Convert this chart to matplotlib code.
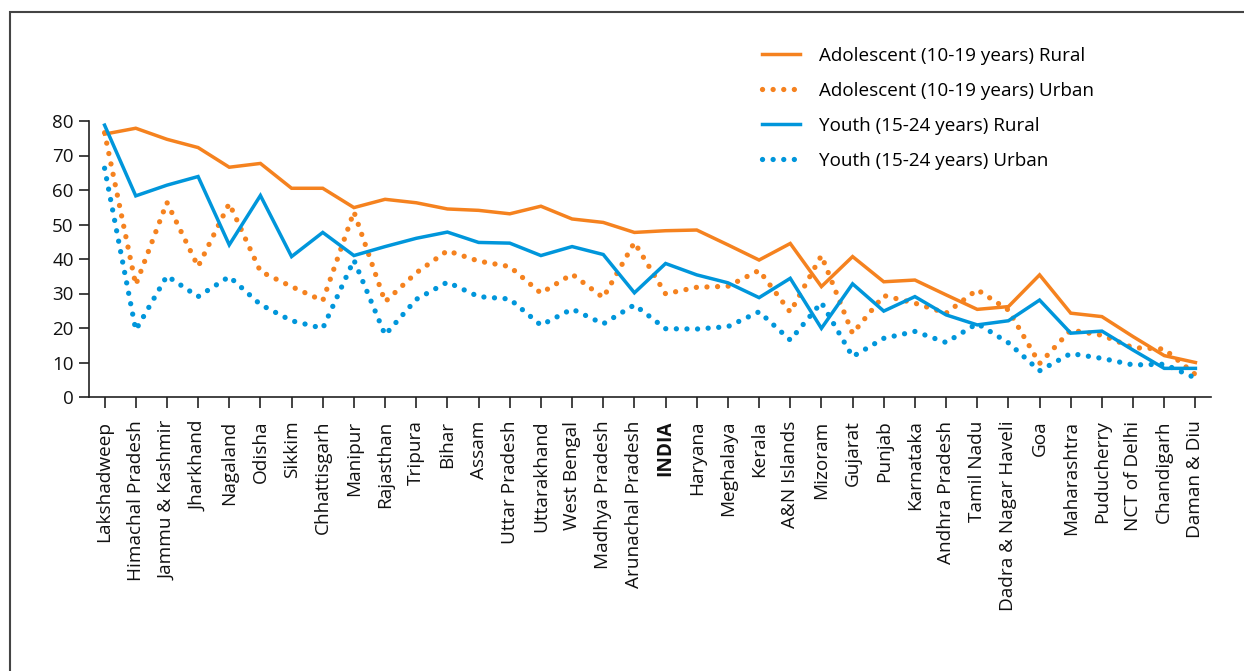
import matplotlib
matplotlib.use("Agg")
import matplotlib.pyplot as plt
from matplotlib.patches import Rectangle

plt.rcParams['font.family'] = ['Open Sans', 'DejaVu Sans']

states = ["Lakshadweep", "Himachal Pradesh", "Jammu & Kashmir", "Jharkhand", "Nagaland",
          "Odisha", "Sikkim", "Chhattisgarh", "Manipur", "Rajasthan", "Tripura", "Bihar",
          "Assam", "Uttar Pradesh", "Uttarakhand", "West Bengal", "Madhya Pradesh",
          "Arunachal Pradesh", "INDIA", "Haryana", "Meghalaya", "Kerala", "A&N Islands",
          "Mizoram", "Gujarat", "Punjab", "Karnataka", "Andhra Pradesh", "Tamil Nadu",
          "Dadra & Nagar Haveli", "Goa", "Maharashtra", "Puducherry", "NCT of Delhi",
          "Chandigarh", "Daman & Diu"]

adol_rural = [76.2, 77.9, 74.7, 72.3, 66.6, 67.7, 60.5, 60.5, 54.9, 57.3, 56.3, 54.5,
              54.1, 53.1, 55.3, 51.6, 50.6, 47.7, 48.2, 48.4, 44.1, 39.7, 44.5,
              32.0, 40.7, 33.4, 33.9, 29.6, 25.4, 26.2, 35.4, 24.3, 23.3, 17.5,
              12.0, 10.0]
adol_urban = [76.6, 32.5, 56.4, 37.8, 56.1, 36.4, 32.0, 27.9, 53.7, 27.6, 36.0, 42.4,
              39.4, 37.8, 30.1, 35.6, 28.8, 44.8, 29.9, 31.8, 32.1, 36.7, 24.6,
              41.0, 18.4, 29.4, 27.2, 24.3, 31.1, 25.2, 9.7, 19.4, 17.9, 14.3,
              13.9, 6.5]
youth_rural = [78.8, 58.3, 61.4, 63.9, 44.1, 58.4, 40.7, 47.7, 41.0, 43.6, 46.0, 47.8,
               44.8, 44.6, 41.0, 43.6, 41.3, 30.2, 38.7, 35.4, 33.1, 28.8, 34.4,
               19.9, 32.8, 24.9, 29.1, 23.8, 20.9, 22.1, 28.1, 18.5, 19.1, 13.6,
               8.3, 8.3]
youth_urban = [66.3, 19.4, 35.1, 29.1, 34.9, 26.8, 22.1, 19.9, 39.7, 18.0, 28.3, 33.3,
               29.1, 28.4, 20.8, 25.5, 21.2, 26.7, 19.8, 19.7, 20.4, 24.7, 16.5,
               27.4, 11.7, 17.0, 19.0, 15.8, 21.3, 15.7, 7.6, 12.6, 11.2, 9.3,
               9.5, 5.5]
yticks = [0, 10, 20, 30, 40, 50, 60, 70, 80]

ORANGE = "#F5821F"
BLUE = "#0096DB"

W, H = 1244, 671
fig = plt.figure(figsize=(W / 100, H / 100), dpi=100)
ax = fig.add_axes([89 / W, 1 - 397 / H, (1211 - 89) / W, (397 - 121) / H])

x = list(range(len(states)))
dot = (0, (0.01, 2.0))
ax.plot(x, adol_rural, color=ORANGE, lw=2.5, solid_joinstyle='miter',
        label="Adolescent (10-19 years) Rural")
ax.plot(x, adol_urban, color=ORANGE, lw=3.8, linestyle=dot, dash_capstyle='round',
        label="Adolescent (10-19 years) Urban")
ax.plot(x, youth_rural, color=BLUE, lw=2.5, solid_joinstyle='miter',
        label="Youth (15-24 years) Rural")
ax.plot(x, youth_urban, color=BLUE, lw=3.8, linestyle=dot, dash_capstyle='round',
        label="Youth (15-24 years) Urban")

ax.set_xlim(-0.5, len(states) - 0.5)
ax.set_ylim(0, 80)
ax.set_yticks(yticks)
ax.set_xticks(x)
ax.set_xticklabels(states, rotation=90, fontsize=13.7)
for lbl in ax.get_xticklabels():
    if lbl.get_text() == "INDIA":
        lbl.set_fontweight('bold')
ax.tick_params(axis='y', labelsize=13.5, length=7, width=1.2, direction='out', pad=4)
ax.tick_params(axis='x', length=8, width=1.2, direction='out', pad=9)
for s in ['top', 'right']:
    ax.spines[s].set_visible(False)
for s in ['left', 'bottom']:
    ax.spines[s].set_linewidth(1.2)
    ax.spines[s].set_color('#222222')
ax.tick_params(colors='#222222', labelcolor='#111111')

leg = ax.legend(loc='upper left', bbox_to_anchor=(762 / W, 1 - 47 / H),
                bbox_transform=fig.transFigure, frameon=False, fontsize=13.6,
                handlelength=2.0, handletextpad=1.0, labelspacing=0.9,
                borderpad=0, borderaxespad=0)

fig.add_artist(Rectangle((10 / W, -0.05), 1.2, 1.05 - 12 / H,
                         transform=fig.transFigure, fill=False,
                         edgecolor='#444444', lw=1.5))

fig.savefig("out.png", dpi=100)
